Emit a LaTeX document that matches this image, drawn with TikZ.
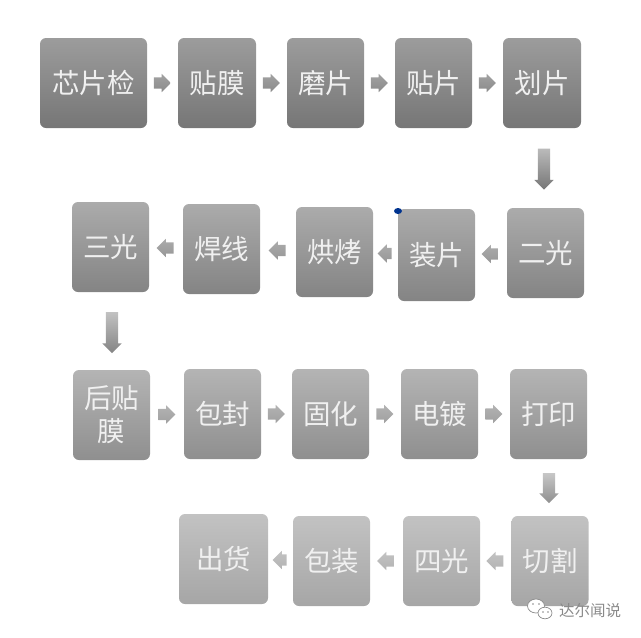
\documentclass[tikz,border=0pt]{standalone}
\usepackage{fontspec}
\setmainfont{Noto Sans CJK SC}
\usetikzlibrary{shapes.arrows,calc}
\definecolor{ra}{HTML}{9C9C9C}\definecolor{rb}{HTML}{767676}
\definecolor{sa}{HTML}{ABABAB}\definecolor{sb}{HTML}{848484}
\definecolor{ta}{HTML}{B4B4B4}\definecolor{tb}{HTML}{8F8F8F}
\definecolor{ua}{HTML}{C2C2C2}\definecolor{ub}{HTML}{A6A6A6}
\definecolor{wm}{HTML}{8A8A8A}
\tikzset{
 boxbase/.style={rounded corners=6pt,minimum width=77pt,minimum height=90pt,inner sep=0pt,
  text=white!94!black,font=\fontsize{27.5}{33}\selectfont,align=center,text width=76pt,draw=none},
 rowa/.style={boxbase,top color=ra,bottom color=rb},
 rowb/.style={boxbase,top color=sa,bottom color=sb},
 rowc/.style={boxbase,top color=ta,bottom color=tb},
 rowd/.style={boxbase,top color=ua,bottom color=ub},
 harrowbase/.style={single arrow,single arrow head indent=0pt,draw=none,outer sep=0pt,
  top color=#1!68!white,bottom color=#1!85!white},
 varrowbase/.style={single arrow,single arrow head indent=0pt,draw=none,outer sep=0pt,
  top color=#1!50!white,bottom color=#1},
 hright/.style={harrowbase=#1,inner xsep=0pt,inner ysep=5.5pt,minimum height=17pt,single arrow head extend=3.5pt,shape border rotate=0,xshift=-3pt},
 hleft/.style={harrowbase=#1,inner xsep=0pt,inner ysep=5.5pt,minimum height=17pt,single arrow head extend=3.5pt,shape border rotate=180,xshift=2pt},
 vdown/.style={varrowbase=#1,inner xsep=6pt,inner ysep=0pt,minimum height=41pt,single arrow head extend=3.5pt,shape border rotate=270,yshift=3pt},
 wmtext/.style={text=wm,font=\fontsize{15.5}{17}\selectfont,inner sep=0pt}
}
\begin{document}
\begin{tikzpicture}[x=1pt,y=-1pt]
\useasboundingbox (0,0) rectangle (641,638);
% row 1
\node[rowa,minimum width=107pt,text width=106pt] (xin) at (93.5,83) {芯片检};
\node[rowa,minimum width=78pt] (tiemo) at (217,83) {贴膜};
\node[rowa] (mopian) at (325.5,83) {磨片};
\node[rowa] (tiepian) at (433.5,83) {贴片};
\node[rowa,minimum width=78pt] (huapian) at (542,83) {划片};
% row 2
\node[rowb] (erguang) at (545.5,253) {二光};
\node[rowb,minimum height=92pt] (zhuangpian) at (436.5,255) {装片};
\node[rowb] (hongkao) at (334.5,252) {烘烤};
\node[rowb] (hanxian) at (221.5,249) {焊线};
\node[rowb] (sanguang) at (110.5,247) {三光};
% row 3
\node[rowc] (houtie) at (111.5,415) {后贴\\膜};
\node[rowc] (baofeng) at (222.5,414) {包封};
\node[rowc] (guhua) at (330.5,414) {固化};
\node[rowc] (diandu) at (439.5,414) {电镀};
\node[rowc] (dayin) at (548.5,414) {打印};
% row 4
\node[rowd] (qiege) at (550,561) {切割};
\node[rowd] (siguang) at (441.5,561) {四光};
\node[rowd] (baozhuang) at (331.5,561) {包装};
\node[rowd,minimum width=89pt,text width=88pt] (chuhuo) at (223.5,559) {出货};
% arrows row 1
\node[hright=rb] (a1) at ($(xin.east)!.5!(tiemo.west)$) {};
\node[hright=rb] (a2) at ($(tiemo.east)!.5!(mopian.west)$) {};
\node[hright=rb] (a3) at ($(mopian.east)!.5!(tiepian.west)$) {};
\node[hright=rb] (a4) at ($(tiepian.east)!.5!(huapian.west)$) {};
\coordinate (d1s) at (544,148);\coordinate (d1e) at (544,190);
\node[vdown=rb] (a5) at ($(d1s)!.5!(d1e)$) {};
% arrows row 2
\node[hleft=sb] (a6) at ($(erguang.west)!.5!(zhuangpian.east)$) {};
\node[hleft=sb,minimum height=14pt] (a7) at ($(zhuangpian.west)!.5!(hongkao.east)$) {};
\node[hleft=sb] (a8) at ($(hongkao.west)!.5!(hanxian.east)$) {};
\node[hleft=sb] (a9) at ($(hanxian.west)!.5!(sanguang.east)$) {};
\coordinate (d2s) at (112,312);\coordinate (d2e) at (112,353);
\node[vdown=sb] (a10) at ($(d2s)!.5!(d2e)$) {};
% arrows row 3
\node[hright=tb] (a11) at ($(houtie.east)!.5!(baofeng.west)$) {};
\node[hright=tb] (a12) at ($(baofeng.east)!.5!(guhua.west)$) {};
\node[hright=tb] (a13) at ($(guhua.east)!.5!(diandu.west)$) {};
\node[hright=tb] (a14) at ($(diandu.east)!.5!(dayin.west)$) {};
\coordinate (d3s) at (549,473);\coordinate (d3e) at (549,503);
\node[vdown=tb,minimum height=30pt] (a15) at ($(d3s)!.5!(d3e)$) {};
% arrows row 4
\node[hleft=ub] (a16) at ($(qiege.west)!.5!(siguang.east)$) {};
\node[hleft=ub] (a17) at ($(siguang.west)!.5!(baozhuang.east)$) {};
\node[hleft=ub,minimum height=14pt] (a18) at ($(baozhuang.west)!.5!(chuhuo.east)$) {};
% cursor dot
\fill[fill=blue!45!black!80!cyan] (398,211) ellipse (4pt and 3pt);
% watermark
\draw[wm,fill=white,line width=.7pt] (536,606) ellipse (8.5pt and 7pt);
\draw[wm,fill=white,line width=.7pt] (545,613) ellipse (7pt and 5.8pt);
\fill[wm] (533,604) circle (.9pt) (539,604) circle (.9pt) (543,612) circle (.8pt) (548,612) circle (.8pt);
\node[wmtext,anchor=west] (wmark) at (559,611) {达尔闻说};
\end{tikzpicture}
\end{document}
